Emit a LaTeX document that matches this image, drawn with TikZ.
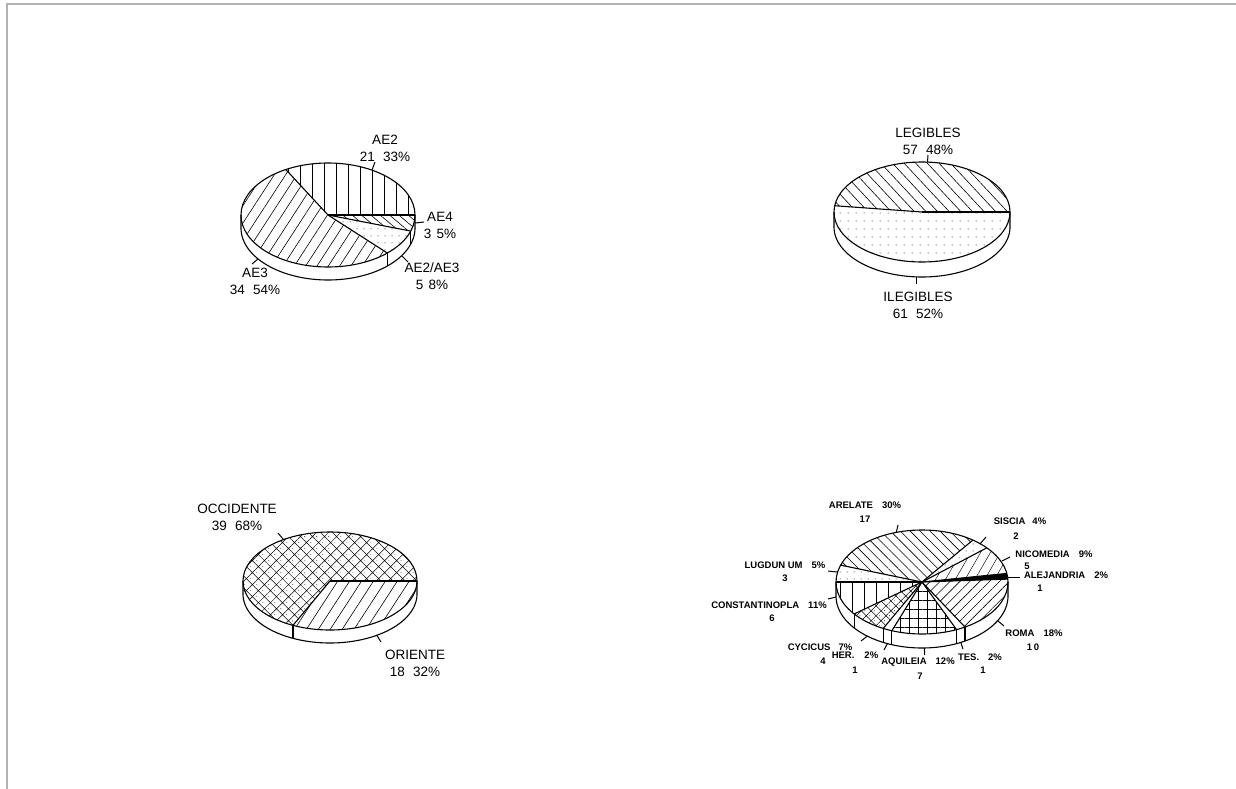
\documentclass[tikz,border=0pt]{standalone}
\usepackage{fontspec}
\setmainfont{Liberation Sans}
\usetikzlibrary{patterns.meta}
% wedge: cx cy rx ry a b style
\newcommand\pwedge[7]{\path[#7] (#1,#2) -- plot[domain=#5:#6,samples=60] ({#1+#3*cos(\x)},{#2-#4*sin(\x)}) -- cycle;}
% side band: cx cy rx ry depth
\newcommand\pside[5]{%
  \fill[white] ({#1-#3},#2) -- ({#1-#3},{#2+#5}) -- plot[domain=180:360,samples=90] ({#1+#3*cos(\x)},{#2+#5-#4*sin(\x)}) -- ({#1+#3},#2) -- cycle;
  \draw[pieline] ({#1-#3},#2) -- ({#1-#3},{#2+#5}) -- plot[domain=180:360,samples=90] ({#1+#3*cos(\x)},{#2+#5-#4*sin(\x)}) -- ({#1+#3},#2);}
% side divider: cx cy rx ry depth angle
\newcommand\pdiv[6]{\draw[pieline] ({#1+#3*cos(#6)},{#2-#4*sin(#6)}) -- ++(0,#5);}
% radius: cx cy rx ry angle
\newcommand\prad[5]{\draw[pieline] (#1,#2) -- ({#1+#3*cos(#5)},{#2-#4*sin(#5)});}
\tikzset{
  pieline/.style={draw=black,line width=1.1pt,line join=round},
  ticklin/.style={draw=black,line width=1pt},
  biglab/.style={font=\fontsize{13.5}{17}\selectfont,align=center,inner sep=0pt},
  smalllab/.style={font=\fontsize{9.5}{11}\selectfont\bfseries,inner sep=0pt},
  vlines/.style={pattern={Lines[angle=90,distance=12pt,line width=0.6pt]}},
  dotfill/.style={pattern={Dots[distance=7pt,radius=0.5pt]}},
}
\begin{document}
\begin{tikzpicture}[x=1pt,y=-1pt]
\useasboundingbox (0,0) rectangle (1236,789);
\fill[white] (0,0) rectangle (1236,789);
\draw[gray!60,line width=1.5pt] (7,789) -- (7,4) -- (1236,4);

% ================= Pie A : AE =================
\pside{328}{215}{87}{52}{13}
\pwedge{328}{215}{87}{52}{0}{119}{vlines}
\pwedge{328}{215}{87}{52}{119}{313}{pattern={Lines[angle=57,distance=9.5pt,line width=0.6pt]}}
\pwedge{328}{215}{87}{52}{313}{342}{dotfill}
\pwedge{328}{215}{87}{52}{342}{360}{pattern={Lines[angle=-40,distance=6pt,line width=0.6pt]}}
\foreach \a in {0,119,313,342} {\prad{328}{215}{87}{52}{\a}}
\draw[pieline] (328,215) ellipse [x radius=87pt,y radius=52pt];
\pdiv{328}{215}{87}{52}{13}{313}
\pdiv{328}{215}{87}{52}{13}{342}
\draw[ticklin] (372,170) -- (375,162);
\draw[ticklin] (415,223) -- (424,222);
\draw[ticklin] (402,256) -- (408,262);
\draw[ticklin] (258,259) -- (252,264);
\node[biglab] (lae2) at (385,148) {AE2\\21\hspace{0.6em}33\%};
\node[biglab] (lae4) at (440,225) {AE4\\3\hspace{0.4em}5\%};
\node[biglab] (lae23) at (432,276) {AE2/AE3\\5\hspace{0.4em}8\%};
\node[biglab] (lae3) at (255,281) {AE3\\34\hspace{0.6em}54\%};

% ================= Pie B : LEGIBLES =================
\pside{922}{212}{88}{50}{15}
\pwedge{922}{212}{88}{50}{0}{172.8}{pattern={Lines[angle=-47,distance=8.5pt,line width=0.6pt]}}
\pwedge{922}{212}{88}{50}{172.8}{360}{pattern={Dots[distance=8pt,radius=0.5pt]}}
\foreach \a in {0,172.8} {\prad{922}{212}{88}{50}{\a}}
\draw[pieline] (922,212) ellipse [x radius=88pt,y radius=50pt];
\draw[ticklin] (927.5,162) -- (928,155);
\draw[ticklin] (916.5,277) -- (916.5,284);
\node[biglab] (lleg) at (928,141) {LEGIBLES\\57\hspace{0.6em}48\%};
\node[biglab] (lileg) at (918,305) {ILEGIBLES\\61\hspace{0.6em}52\%};

% ================= Pie C : OCCIDENTE / ORIENTE =================
\pside{330}{581}{87}{49}{13}
\pwedge{330}{581}{87}{49}{0}{244.8}{pattern={Hatch[angle=45,distance=8.5pt,line width=0.5pt]}}
\pwedge{330}{581}{87}{49}{0}{244.8}{pattern={Dots[angle=45,distance=8.5pt,radius=0.45pt,xshift=4.25pt]}}
\pwedge{330}{581}{87}{49}{244.8}{360}{pattern={Lines[angle=57,distance=10pt,line width=0.6pt]}}
\foreach \a in {0,244.8} {\prad{330}{581}{87}{49}{\a}}
\draw[pieline] (330,581) ellipse [x radius=87pt,y radius=49pt];
\pdiv{330}{581}{87}{49}{13}{244.8}
\draw[ticklin] (283.5,539.6) -- (278,533);
\draw[ticklin] (376.6,635) -- (381,642);
\node[biglab] (locc) at (237,517) {OCCIDENTE\\39\hspace{0.6em}68\%};
\node[biglab] (lori) at (415,663) {ORIENTE\\18\hspace{0.6em}32\%};

% ================= Pie D : mints =================
\pside{922}{582}{86}{52}{14}
\pwedge{922}{582}{86}{52}{180}{217.9}{vlines}
\pwedge{922}{582}{86}{52}{217.9}{243.2}{pattern={Hatch[angle=45,distance=7pt,line width=0.5pt]}}
\pwedge{922}{582}{86}{52}{217.9}{243.2}{pattern={Dots[angle=45,distance=7pt,radius=0.45pt,xshift=3.5pt]}}
\pwedge{922}{582}{86}{52}{249.5}{293.7}{pattern={Hatch[angle=0,distance=9pt,line width=0.6pt]}}
\pwedge{922}{582}{86}{52}{300}{363.2}{pattern={Lines[angle=45,distance=7pt,line width=0.6pt]}}
\pwedge{922}{582}{86}{52}{363.2}{369.5}{fill=black}
\pwedge{922}{582}{86}{52}{369.5}{401.1}{pattern={Lines[angle=60,distance=8.5pt,line width=0.45pt]}}
\pwedge{922}{582}{86}{52}{401.1}{413.7}{dotfill}
\pwedge{922}{582}{86}{52}{413.7}{521.1}{pattern={Lines[angle=-45,distance=7pt,line width=0.6pt]}}
\pwedge{922}{582}{86}{52}{521.1}{540}{dotfill}
\foreach \a in {180,217.9,243.2,249.5,293.7,300,363.2,369.5,401.1,413.7,521.1} {\prad{922}{582}{86}{52}{\a}}
\draw[pieline] (922,582) ellipse [x radius=86pt,y radius=52pt];
\foreach \a in {217.9,243.2,249.5,293.7,300} {\pdiv{922}{582}{86}{52}{14}{\a}}
% ticks
\draw[ticklin] (836,597) -- (828,599);
\draw[ticklin] (837,572) -- (828,571);
\draw[ticklin] (896.3,532.4) -- (898,525);
\draw[ticklin] (980.2,543.7) -- (986,537);
\draw[ticklin] (1002,561) -- (1010,557);
\draw[ticklin] (1008,577) -- (1020,577);
\draw[ticklin] (997.6,620.7) -- (1004,626);
\draw[ticklin] (960.8,642.4) -- (963,649);
\draw[ticklin] (924.4,648) -- (924.6,655);
\draw[ticklin] (887.4,643.6) -- (884,650);
\draw[ticklin] (867.3,636.1) -- (861,641);
% labels
\node[smalllab] (larel) at (865,505) {ARELATE\hspace{9pt}30\%};
\node[smalllab] (larelc) at (865,519) {17};
\node[smalllab] (lsis) at (1020,521) {SISCIA\hspace{7pt}4\%};
\node[smalllab] (lsisc) at (1016,536) {2};
\node[smalllab] (lnic) at (1054,554) {NICOMEDIA\hspace{9pt}9\%};
\node[smalllab] (lnicc) at (1027,566) {5};
\node[smalllab] (lale) at (1066,575) {ALEJANDRIA\hspace{9pt}2\%};
\node[smalllab] (lalec) at (1040,588) {1};
\node[smalllab] (lrom) at (1034,633) {ROMA\hspace{9pt}18\%};
\node[smalllab] (lromc) at (1033,647) {1\,0};
\node[smalllab] (ltes) at (980,657) {TES.\hspace{9pt}2\%};
\node[smalllab] (ltesc) at (983,670) {1};
\node[smalllab] (laqu) at (918,662) {AQUILEIA\hspace{9pt}12\%};
\node[smalllab] (laquc) at (920,676) {7};
\node[smalllab] (lher) at (855,655) {HER.\hspace{10pt}2\%};
\node[smalllab] (lherc) at (855,670) {1};
\node[smalllab] (lcyc) at (820,647) {CYCICUS\hspace{8pt}7\%};
\node[smalllab] (lcycc) at (823,661) {4};
\node[smalllab] (lcon) at (769,605) {CONSTANTINOPLA\hspace{9pt}11\%};
\node[smalllab] (lconc) at (772,618) {6};
\node[smalllab] (llug) at (785,565) {LUGDUN UM\hspace{9pt}5\%};
\node[smalllab] (llugc) at (785,578) {3};
\end{tikzpicture}
\end{document}
